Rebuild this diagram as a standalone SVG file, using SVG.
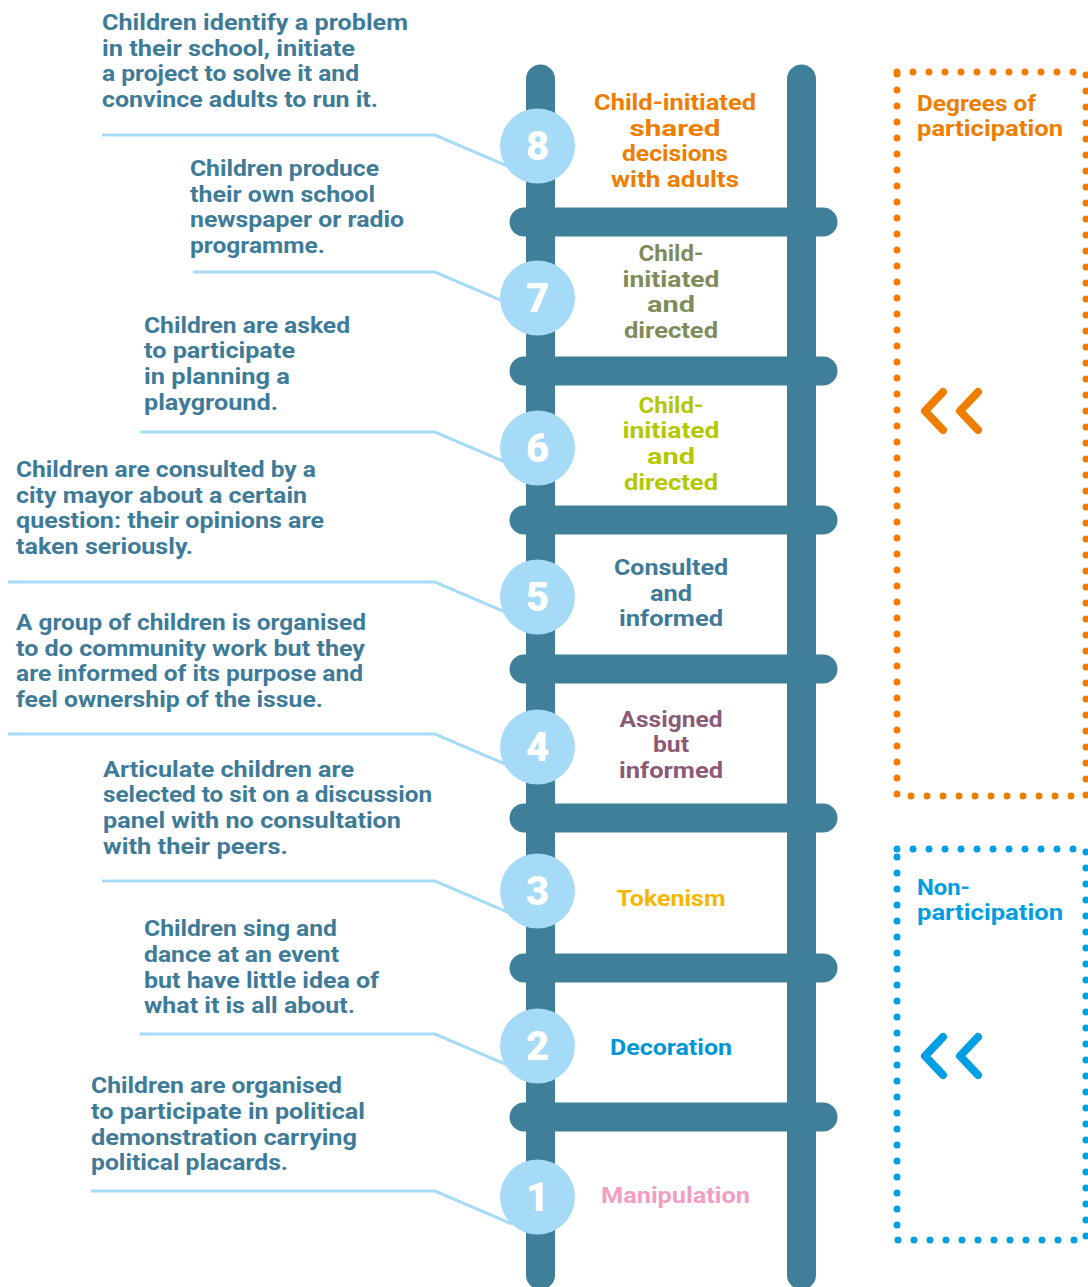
<svg xmlns="http://www.w3.org/2000/svg" width="1088" height="1287" viewBox="0 0 1088 1287">
<style>
.t{font-family:Roboto,"Liberation Sans",sans-serif;font-weight:700;font-size:22px}
.d{fill:#3e7b98}
.lab{text-anchor:middle}
.rail{stroke:#407f9a;stroke-width:29;stroke-linecap:round;fill:none}
.lead{stroke:#a6dbf7;stroke-width:3;fill:none}
.circ{fill:#a6dbf7}
.num{font-family:Roboto,"Liberation Sans",sans-serif;font-weight:900;font-size:40px;fill:#fff;text-anchor:middle}
.chev{fill:none;stroke-width:8;stroke-linecap:round;stroke-linejoin:round}
.dots{fill:none;stroke-width:7;stroke-dasharray:0 16;stroke-linecap:round}
</style>
<rect width="1088" height="1287" fill="#fff"/>
<g id="ladder">
<line class="rail" x1="540.5" y1="79" x2="540.5" y2="1275"/>
<line class="rail" x1="801.5" y1="79" x2="801.5" y2="1275"/>
<line class="rail" x1="524" y1="222" x2="823" y2="222"/>
<line class="rail" x1="524" y1="371" x2="823" y2="371"/>
<line class="rail" x1="524" y1="520" x2="823" y2="520"/>
<line class="rail" x1="524" y1="669" x2="823" y2="669"/>
<line class="rail" x1="524" y1="818" x2="823" y2="818"/>
<line class="rail" x1="524" y1="968" x2="823" y2="968"/>
<line class="rail" x1="524" y1="1117" x2="823" y2="1117"/>
</g>
<g id="connectors">
<polyline class="lead" points="102,135 435,135 512,168"/>
<polyline class="lead" points="193,272 435,272 512,305"/>
<polyline class="lead" points="140,432 435,432 512,465"/>
<polyline class="lead" points="8,582 435,582 512,615"/>
<polyline class="lead" points="8,734 435,734 512,767"/>
<polyline class="lead" points="102,881 435,881 512,914"/>
<polyline class="lead" points="140,1034 435,1034 512,1067"/>
<polyline class="lead" points="91,1191 435,1191 512,1224"/>
</g>
<g id="step8"><circle class="circ" cx="537.5" cy="146" r="37.5"/><text class="num" x="537.5" y="160">8</text>
<text class="t lab" fill="#ef7d00"><tspan x="675" y="110" textLength="162" lengthAdjust="spacingAndGlyphs">Child-initiated</tspan><tspan x="675" y="136" textLength="91" lengthAdjust="spacingAndGlyphs">shared</tspan><tspan x="675" y="161" textLength="106" lengthAdjust="spacingAndGlyphs">decisions</tspan><tspan x="675" y="187" textLength="128" lengthAdjust="spacingAndGlyphs">with adults</tspan></text>
<text class="t d"><tspan x="102" y="30" textLength="306" lengthAdjust="spacingAndGlyphs">Children identify a problem</tspan><tspan x="102" y="56" textLength="253" lengthAdjust="spacingAndGlyphs">in their school, initiate</tspan><tspan x="102" y="81" textLength="257" lengthAdjust="spacingAndGlyphs">a project to solve it and</tspan><tspan x="102" y="107" textLength="276" lengthAdjust="spacingAndGlyphs">convince adults to run it.</tspan></text></g>
<g id="step7"><circle class="circ" cx="537.5" cy="298" r="37.5"/><text class="num" x="537.5" y="312">7</text>
<text class="t lab" fill="#7f8c5a"><tspan x="671" y="261" textLength="65" lengthAdjust="spacingAndGlyphs">Child-</tspan><tspan x="671" y="287" textLength="97" lengthAdjust="spacingAndGlyphs">initiated</tspan><tspan x="671" y="312" textLength="48" lengthAdjust="spacingAndGlyphs">and</tspan><tspan x="671" y="338" textLength="94" lengthAdjust="spacingAndGlyphs">directed</tspan></text>
<text class="t d"><tspan x="190" y="176" textLength="189" lengthAdjust="spacingAndGlyphs">Children produce</tspan><tspan x="190" y="202" textLength="185" lengthAdjust="spacingAndGlyphs">their own school</tspan><tspan x="190" y="227" textLength="214" lengthAdjust="spacingAndGlyphs">newspaper or radio</tspan><tspan x="190" y="253" textLength="135" lengthAdjust="spacingAndGlyphs">programme.</tspan></text></g>
<g id="step6"><circle class="circ" cx="537.5" cy="448" r="37.5"/><text class="num" x="537.5" y="462">6</text>
<text class="t lab" fill="#b3c800"><tspan x="671" y="413" textLength="65" lengthAdjust="spacingAndGlyphs">Child-</tspan><tspan x="671" y="438" textLength="97" lengthAdjust="spacingAndGlyphs">initiated</tspan><tspan x="671" y="464" textLength="48" lengthAdjust="spacingAndGlyphs">and</tspan><tspan x="671" y="490" textLength="94" lengthAdjust="spacingAndGlyphs">directed</tspan></text>
<text class="t d"><tspan x="144" y="333" textLength="206" lengthAdjust="spacingAndGlyphs">Children are asked</tspan><tspan x="144" y="358" textLength="151" lengthAdjust="spacingAndGlyphs">to participate</tspan><tspan x="144" y="384" textLength="146" lengthAdjust="spacingAndGlyphs">in planning a</tspan><tspan x="144" y="410" textLength="134" lengthAdjust="spacingAndGlyphs">playground.</tspan></text></g>
<g id="step5"><circle class="circ" cx="537.5" cy="597" r="37.5"/><text class="num" x="537.5" y="611">5</text>
<text class="t lab" fill="#3e7b98"><tspan x="671" y="575" textLength="114" lengthAdjust="spacingAndGlyphs">Consulted</tspan><tspan x="671" y="601" textLength="42" lengthAdjust="spacingAndGlyphs">and</tspan><tspan x="671" y="626" textLength="104" lengthAdjust="spacingAndGlyphs">informed</tspan></text>
<text class="t d"><tspan x="16" y="477" textLength="300" lengthAdjust="spacingAndGlyphs">Children are consulted by a</tspan><tspan x="16" y="503" textLength="291" lengthAdjust="spacingAndGlyphs">city mayor about a certain</tspan><tspan x="16" y="528" textLength="308" lengthAdjust="spacingAndGlyphs">question: their opinions are</tspan><tspan x="16" y="554" textLength="177" lengthAdjust="spacingAndGlyphs">taken seriously.</tspan></text></g>
<g id="step4"><circle class="circ" cx="537.5" cy="747" r="37.5"/><text class="num" x="537.5" y="761">4</text>
<text class="t lab" fill="#8a5a78"><tspan x="671" y="727" textLength="103" lengthAdjust="spacingAndGlyphs">Assigned</tspan><tspan x="671" y="752" textLength="36" lengthAdjust="spacingAndGlyphs">but</tspan><tspan x="671" y="778" textLength="104" lengthAdjust="spacingAndGlyphs">informed</tspan></text>
<text class="t d"><tspan x="16" y="630" textLength="350" lengthAdjust="spacingAndGlyphs">A group of children is organised</tspan><tspan x="16" y="656" textLength="349" lengthAdjust="spacingAndGlyphs">to do community work but they</tspan><tspan x="16" y="681" textLength="347" lengthAdjust="spacingAndGlyphs">are informed of its purpose and</tspan><tspan x="16" y="707" textLength="307" lengthAdjust="spacingAndGlyphs">feel ownership of the issue.</tspan></text></g>
<g id="step3"><circle class="circ" cx="537.5" cy="891" r="37.5"/><text class="num" x="537.5" y="905">3</text>
<text class="t lab" fill="#f5b800"><tspan x="671" y="906" textLength="109" lengthAdjust="spacingAndGlyphs">Tokenism</tspan></text>
<text class="t d"><tspan x="103" y="777" textLength="251" lengthAdjust="spacingAndGlyphs">Articulate children are</tspan><tspan x="103" y="802" textLength="329" lengthAdjust="spacingAndGlyphs">selected to sit on a discussion</tspan><tspan x="103" y="828" textLength="298" lengthAdjust="spacingAndGlyphs">panel with no consultation</tspan><tspan x="103" y="854" textLength="185" lengthAdjust="spacingAndGlyphs">with their peers.</tspan></text></g>
<g id="step2"><circle class="circ" cx="537.5" cy="1046" r="37.5"/><text class="num" x="537.5" y="1060">2</text>
<text class="t lab" fill="#0096d6"><tspan x="671" y="1055" textLength="122" lengthAdjust="spacingAndGlyphs">Decoration</tspan></text>
<text class="t d"><tspan x="144" y="936" textLength="193" lengthAdjust="spacingAndGlyphs">Children sing and</tspan><tspan x="144" y="962" textLength="195" lengthAdjust="spacingAndGlyphs">dance at an event</tspan><tspan x="144" y="988" textLength="235" lengthAdjust="spacingAndGlyphs">but have little idea of</tspan><tspan x="144" y="1013" textLength="211" lengthAdjust="spacingAndGlyphs">what it is all about.</tspan></text></g>
<g id="step1"><circle class="circ" cx="537.5" cy="1197" r="37.5"/><text class="num" x="537.5" y="1211">1</text>
<text class="t lab" fill="#f29ec4"><tspan x="675.5" y="1203" textLength="149" lengthAdjust="spacingAndGlyphs">Manipulation</tspan></text>
<text class="t d"><tspan x="91" y="1093" textLength="251" lengthAdjust="spacingAndGlyphs">Children are organised</tspan><tspan x="91" y="1119" textLength="274" lengthAdjust="spacingAndGlyphs">to participate in political</tspan><tspan x="91" y="1145" textLength="266" lengthAdjust="spacingAndGlyphs">demonstration carrying</tspan><tspan x="91" y="1170" textLength="197" lengthAdjust="spacingAndGlyphs">political placards.</tspan></text></g>
<g id="participation">
<path class="dots" stroke="#ef7d00" d="M897,72 H1086 V796 H897 Z"/>
<text class="t" fill="#ef7d00"><tspan x="917" y="111" textLength="119" lengthAdjust="spacingAndGlyphs">Degrees of</tspan><tspan x="917" y="136" textLength="146" lengthAdjust="spacingAndGlyphs">participation</tspan></text>
<polyline class="chev" stroke="#ef7d00" points="943,392 925,411 943,430"/>
<polyline class="chev" stroke="#ef7d00" points="978,392 960,411 978,430"/>
</g>
<g id="non-participation">
<path class="dots" stroke="#009ee3" d="M897,849 H1086 V1240 H897 Z"/>
<text class="t" fill="#009ee3"><tspan x="917" y="895" textLength="53" lengthAdjust="spacingAndGlyphs">Non-</tspan><tspan x="917" y="920" textLength="146" lengthAdjust="spacingAndGlyphs">participation</tspan></text>
<polyline class="chev" stroke="#009ee3" points="943,1037 925,1056 943,1075"/>
<polyline class="chev" stroke="#009ee3" points="978,1037 960,1056 978,1075"/>
</g>
</svg>
